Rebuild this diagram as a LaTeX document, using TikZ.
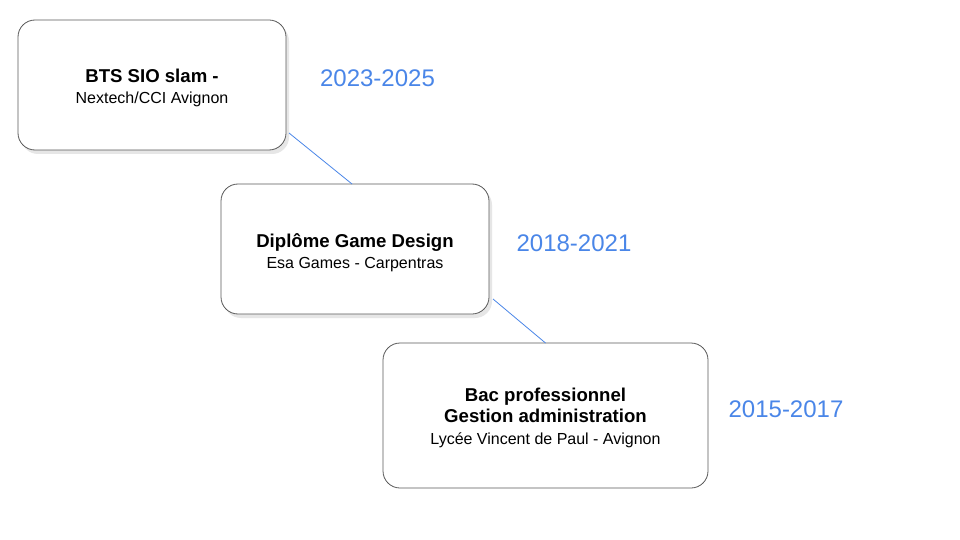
\documentclass[tikz,border=0pt]{standalone}
\usepackage{fontspec}
\setmainfont{Liberation Sans}
\usetikzlibrary{calc,shadows}
\definecolor{yearblue}{HTML}{4A86E8}
\definecolor{boxgrey}{HTML}{595959}
\definecolor{shadowgrey}{HTML}{E6E6E6}
\newcommand{\ttl}[1]{{\fontsize{18.6}{21}\selectfont\bfseries #1}}
\begin{document}
\begin{tikzpicture}[x=1pt,y=-1pt,
  card/.style={draw=boxgrey, line width=0.8pt, fill=white, rounded corners=17pt,
    inner sep=0pt, outer sep=0pt},
  cardshadow/.style={card, drop shadow={shadow xshift=3pt, shadow yshift=-4pt, fill=shadowgrey, opacity=1}},
  cardtext/.style={inner sep=0pt, align=center, font=\fontsize{16}{21.5}\selectfont},
  year/.style={text=yearblue, font=\fontsize{24}{28}\selectfont, inner sep=0pt},
  link/.style={draw=yearblue, line width=0.8pt}]
\useasboundingbox[fill=white] (0,0) rectangle (960,540);
\node[cardshadow, minimum width=268pt, minimum height=130pt] (b1) at (152,85) {};
\node[cardshadow, minimum width=268pt, minimum height=130pt] (b2) at (355,249) {};
\node[card, minimum width=325pt, minimum height=145pt] (b3) at (545.5,415.5) {};
\node[cardtext] (t1) at ($(b1.center)+(0,3)$) {\ttl{BTS SIO slam -}\\Nextech/CCI Avignon};
\node[cardtext] (t2) at ($(b2.center)+(0,3.5)$) {\ttl{Diplôme Game Design}\\Esa Games - Carpentras};
\node[cardtext] (t3) at ($(b3.center)+(0,2)$) {\ttl{Bac professionnel}\\\ttl{Gestion administration}\\Lycée Vincent de Paul - Avignon};
\node[year] (y1) at (377.5,78) {2023-2025};
\node[year] (y2) at (574,243) {2018-2021};
\node[year] (y3) at (786,409) {2015-2017};
\draw[link] ($(b1.south east)+(3,-17)$) -- ($(b2.north)+(-3,0)$);
\draw[link] ($(b2.south east)+(4,-15)$) -- (b3.north);
\end{tikzpicture}
\end{document}
